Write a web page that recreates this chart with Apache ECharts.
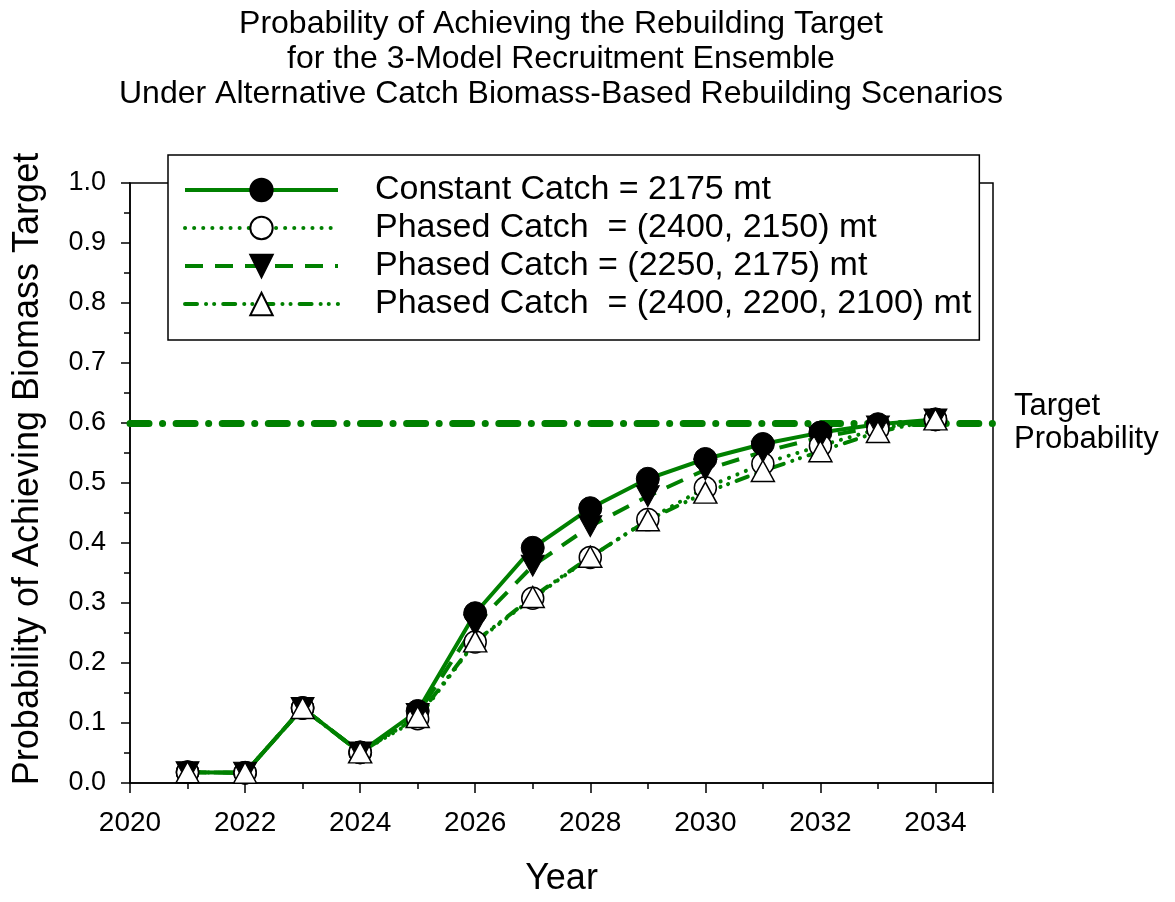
<!DOCTYPE html>
<html>
<head>
<meta charset="utf-8">
<script src="https://cdn.jsdelivr.net/npm/echarts@6/dist/echarts.min.js"></script>
<style>
html,body{margin:0;padding:0;background:#fff;}
#chart{width:1175px;height:902px;}
</style>
</head>
<body>
<div id="chart"></div>
<script>
// ---- data ----
const years = [2021, 2022, 2023, 2024, 2025, 2026, 2027, 2028, 2029, 2030, 2031, 2032, 2033, 2034];
const constantCatch = [0.018, 0.017, 0.125, 0.051, 0.120, 0.283, 0.392, 0.458, 0.507, 0.540, 0.565, 0.584, 0.598, 0.606];
const phased2400_2150 = [0.018, 0.017, 0.125, 0.051, 0.107, 0.235, 0.308, 0.376, 0.439, 0.492, 0.532, 0.562, 0.590, 0.606];
const phased2250_2175 = [0.018, 0.017, 0.125, 0.051, 0.115, 0.263, 0.362, 0.428, 0.478, 0.522, 0.552, 0.576, 0.594, 0.606];
const phased2400_2200_2100 = [0.018, 0.017, 0.125, 0.051, 0.110, 0.236, 0.310, 0.377, 0.438, 0.484, 0.520, 0.553, 0.585, 0.606];
const seriesNames = [
  'Constant Catch = 2175 mt',
  'Phased Catch  = (2400, 2150) mt',
  'Phased Catch = (2250, 2175) mt',
  'Phased Catch  = (2400, 2200, 2100) mt'
];
const targetProbability = 0.6;
const titleLines = [
  'Probability of Achieving the Rebuilding Target',
  'for the 3-Model Recruitment Ensemble',
  'Under Alternative Catch Biomass-Based Rebuilding Scenarios'
];

// ---- chart ----
const FONT = "'Liberation Sans', Arial, Helvetica, sans-serif";
const GREEN = '#008000';
const pairs = vals => years.map((y, i) => [y, vals[i]]);

const chart = echarts.init(document.getElementById('chart'), null, {renderer: 'canvas'});

function mkSeries(name, vals, opts) {
  return Object.assign({
    name: name,
    type: 'line',
    data: pairs(vals),
    xAxisIndex: 0,
    yAxisIndex: 0,
    smooth: false,
    showAllSymbol: true,
    emphasis: {disabled: true},
    silent: true
  }, opts);
}

const option = {
  animation: false,
  backgroundColor: '#fff',
  title: {
    text: titleLines.join('\n'),
    left: 561,
    top: 7,
    padding: 0,
    textAlign: 'center',
    textStyle: {fontFamily: FONT, fontSize: 32, fontWeight: 'normal', color: '#000', lineHeight: 35}
  },
  grid: {
    left: 130, right: 182, top: 183, bottom: 116,
    show: true, borderColor: '#000', borderWidth: 1.5, backgroundColor: 'transparent'
  },
  legend: {
    orient: 'vertical',
    left: 168,
    top: 155,
    padding: [18, 8, 19, 15],
    itemWidth: 153,
    itemHeight: 28,
    itemGap: 4,
    backgroundColor: '#fff',
    borderColor: '#000',
    borderWidth: 1.5,
    selectedMode: false,
    z: 10,
    lineStyle: {width: 4},
    textStyle: {fontFamily: FONT, fontSize: 34, color: '#000', lineHeight: 32, padding: [0, 0, 0, 32]},
    data: seriesNames
  },
  xAxis: [
    {
      type: 'value', min: 2020, max: 2035, interval: 2,
      axisLine: {show: true, lineStyle: {color: '#000', width: 1.5}},
      axisTick: {show: true, length: 10, inside: false, lineStyle: {color: '#000', width: 1.5}},
      axisLabel: {
        fontFamily: FONT, fontSize: 28, color: '#000', margin: 26,
        formatter: v => (v >= 2035 ? '' : String(v))
      },
      splitLine: {show: false},
      name: 'Year', nameLocation: 'middle', nameGap: 78,
      nameTextStyle: {fontFamily: FONT, fontSize: 36, color: '#000'}
    },
    {
      type: 'value', min: 2020, max: 2035, interval: 1, position: 'bottom',
      axisLine: {show: false},
      axisTick: {show: true, length: 6, lineStyle: {color: '#000', width: 1.5}},
      axisLabel: {show: false},
      splitLine: {show: false}
    }
  ],
  yAxis: {
    type: 'value', min: 0, max: 1, interval: 0.1,
    axisLine: {show: true, lineStyle: {color: '#000', width: 1.5}},
    axisTick: {show: true, length: 9, lineStyle: {color: '#000', width: 1.5}},
    minorTick: {show: true, splitNumber: 2, length: 6, lineStyle: {color: '#000', width: 1.5}},
    axisLabel: {fontFamily: FONT, fontSize: 27, color: '#000', margin: 24, formatter: v => v.toFixed(1)},
    splitLine: {show: false},
    name: 'Probability of Achieving Biomass Target',
    nameLocation: 'middle', nameRotate: 90, nameGap: 84,
    nameTextStyle: {fontFamily: FONT, fontSize: 36, color: '#000', padding: [0, 0, 0, 28]}
  },
  series: [
    mkSeries(seriesNames[0], constantCatch, {
      symbol: 'circle', symbolSize: 23,
      itemStyle: {color: '#000', borderColor: '#000', borderWidth: 1},
      lineStyle: {color: GREEN, width: 4, type: 'solid'},
      markLine: {
        silent: true,
        z: 1,
        symbol: ['none', 'none'],
        lineStyle: {color: GREEN, width: 7, type: [19, 13.5, 0.1, 13.5], cap: 'round'},
        label: {
          show: true, position: 'end', distance: 21,
          formatter: 'Target\nProbability',
          fontFamily: FONT, fontSize: 31, lineHeight: 33, color: '#000', align: 'left'
        },
        emphasis: {disabled: true},
        data: [{yAxis: targetProbability}]
      }
    }),
    mkSeries(seriesNames[1], phased2400_2150, {
      symbol: 'circle', symbolSize: 22,
      itemStyle: {color: '#fff', borderColor: '#000', borderWidth: 1.5},
      lineStyle: {color: GREEN, width: 4, type: [0.1, 9], cap: 'round'}
    }),
    mkSeries(seriesNames[2], phased2250_2175, {
      symbol: 'path://M0,0 L2,0 L1,1.732 Z', symbolSize: [23, 21],
      itemStyle: {color: '#000', borderColor: '#000', borderWidth: 1},
      lineStyle: {color: GREEN, width: 4, type: [18, 12], cap: 'butt'}
    }),
    mkSeries(seriesNames[3], phased2400_2200_2100, {
      symbol: 'path://M1,0 L2,1.732 L0,1.732 Z', symbolSize: [23, 21],
      itemStyle: {color: '#fff', borderColor: '#000', borderWidth: 1.5},
      lineStyle: {color: GREEN, width: 4, type: [12, 9, 0.1, 8, 0.1, 9], cap: 'round'}
    })
  ]
};
chart.setOption(option);
</script>
</body>
</html>
